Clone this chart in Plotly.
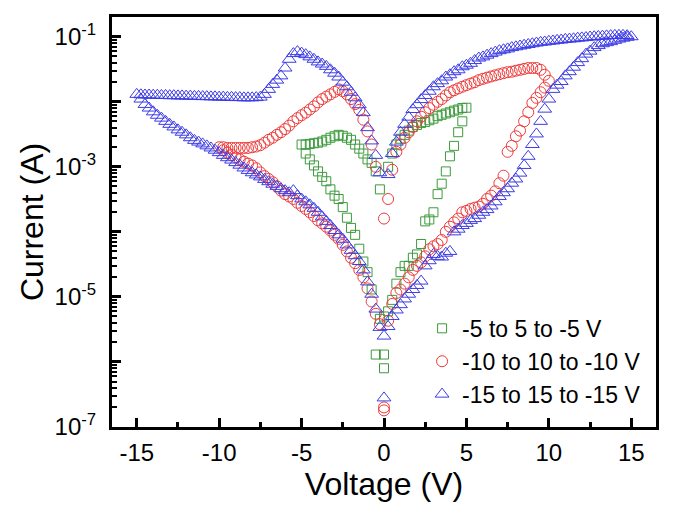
import plotly.graph_objects as go

# ---------------- data ----------------
# -15 to 15 to -15 V (blue triangles)
blue_ul_v = [-15.0, -14.75, -14.5, -14.25, -14.0, -13.75, -13.5, -13.25, -13.0, -12.75, -12.5, -12.25,
             -12.0, -11.75, -11.5, -11.25, -11.0, -10.75, -10.5, -10.25, -10.0, -9.75, -9.5, -9.25,
             -9.0, -8.75, -8.5, -8.25, -8.0, -7.75, -7.5, -7.25, -7.0, -6.75, -6.5, -6.25, -6.0,
             -5.75, -5.5, -5.25, -5.0, -4.75, -4.5, -4.25, -4.0, -3.75, -3.5, -3.25, -3.0, -2.75,
             -2.5, -2.25, -2.0, -1.75, -1.5, -1.25, -1.0, -0.75, -0.5, -0.25]
blue_ul_i = [1.3e-2, 1.28e-2, 1.27e-2, 1.27e-2, 1.26e-2, 1.26e-2, 1.25e-2, 1.25e-2, 1.24e-2, 1.24e-2,
             1.23e-2, 1.23e-2, 1.22e-2, 1.22e-2, 1.21e-2, 1.21e-2, 1.2e-2, 1.2e-2, 1.19e-2, 1.19e-2,
             1.18e-2, 1.18e-2, 1.17e-2, 1.17e-2, 1.16e-2, 1.16e-2, 1.15e-2, 1.15e-2, 1.15e-2, 1.16e-2,
             1.18e-2, 1.3e-2, 1.55e-2, 1.85e-2, 2.15e-2, 2.5e-2, 3.3e-2, 4.5e-2, 5.5e-2, 5.9e-2,
             5.6e-2, 5.3e-2, 4.9e-2, 4.5e-2, 4.1e-2, 3.8e-2, 3.5e-2, 3.1e-2, 2.75e-2, 2.4e-2,
             2.0e-2, 1.7e-2, 1.4e-2, 1.15e-2, 9.0e-3, 6.8e-3, 4.0e-3, 2.5e-3, 1.5e-3, 8.1e-4]

blue_ll_v = [-14.75, -14.5, -14.25, -14.0, -13.75, -13.5, -13.25, -13.0, -12.75, -12.5, -12.25, -12.0,
             -11.75, -11.5, -11.25, -11.0, -10.75, -10.5, -10.25, -10.0, -9.75, -9.5, -9.25, -9.0,
             -8.75, -8.5, -8.25, -8.0, -7.75, -7.5, -7.25, -7.0, -6.75, -6.5, -6.25, -6.0, -5.75,
             -5.5, -5.25, -5.0, -4.75, -4.5, -4.25, -4.0, -3.75, -3.5, -3.25, -3.0, -2.75, -2.5,
             -2.25, -2.0, -1.75, -1.5, -1.25, -1.0, -0.75, -0.5, -0.25, 0.0]
blue_ll_i = [1.1e-2, 9.1e-3, 8.0e-3, 7.0e-3, 6.2e-3, 5.6e-3, 5.0e-3, 4.5e-3, 4.1e-3, 3.7e-3, 3.4e-3,
             3.1e-3, 2.8e-3, 2.55e-3, 2.4e-3, 2.25e-3, 2.1e-3, 1.95e-3, 1.8e-3, 1.65e-3, 1.5e-3,
             1.38e-3, 1.27e-3, 1.16e-3, 1.06e-3, 9.6e-4, 8.8e-4, 8.1e-4, 7.5e-4, 7.0e-4, 6.4e-4,
             5.9e-4, 5.4e-4, 5.0e-4, 4.6e-4, 4.3e-4, 4.0e-4, 4.3e-4, 3.6e-4, 3.2e-4, 2.9e-4, 2.6e-4,
             2.3e-4, 2.0e-4, 1.7e-4, 1.45e-4, 1.25e-4, 1.05e-4, 9.0e-5, 7.7e-5, 6.3e-5, 5.2e-5,
             4.3e-5, 3.5e-5, 2.6e-5, 1.7e-5, 1.1e-5, 6.5e-6, 3.4e-6, 2.5e-6]

blue_ur_v = [0.25, 0.5, 0.75, 1.0, 1.25, 1.5, 1.75, 2.0, 2.25, 2.5, 2.75, 3.0, 3.25, 3.5, 3.75, 4.0,
             4.25, 4.5, 4.75, 5.0, 5.25, 5.5, 5.75, 6.0, 6.25, 6.5, 6.75, 7.0, 7.25, 7.5, 7.75, 8.0,
             8.25, 8.5, 8.75, 9.0, 9.25, 9.5, 9.75, 10.0, 10.25, 10.5, 10.75, 11.0, 11.25, 11.5,
             11.75, 12.0, 12.25, 12.5, 12.75, 13.0, 13.25, 13.5, 13.75, 14.0, 14.25, 14.5, 14.75]
blue_ur_i = [7.6e-4, 1.6e-3, 2.4e-3, 3.4e-3, 4.5e-3, 5.8e-3, 7.6e-3, 9.0e-3, 1.08e-2, 1.25e-2,
             1.45e-2, 1.7e-2, 1.9e-2, 2.1e-2, 2.4e-2, 2.6e-2, 2.9e-2, 3.1e-2, 3.45e-2, 3.65e-2,
             3.9e-2, 4.3e-2, 4.7e-2, 4.9e-2, 5.2e-2, 5.5e-2, 5.8e-2, 6.1e-2, 6.3e-2, 6.5e-2, 6.8e-2,
             7.0e-2, 7.2e-2, 7.4e-2, 7.6e-2, 7.8e-2, 8.0e-2, 8.2e-2, 8.3e-2, 8.5e-2, 8.6e-2, 8.8e-2,
             8.9e-2, 9.1e-2, 9.2e-2, 9.3e-2, 9.5e-2, 9.6e-2, 9.7e-2, 9.9e-2, 1.0e-1, 1.01e-1,
             1.02e-1, 1.03e-1, 1.04e-1, 1.05e-1, 1.05e-1, 1.05e-1, 1.04e-1]

blue_lr_v = [0.0, 0.25, 0.5, 0.75, 1.0, 1.25, 1.5, 1.75, 2.0, 2.25, 2.5, 2.75, 3.0, 3.25, 3.5, 3.75,
             4.0, 4.25, 4.5, 4.75, 5.0, 5.25, 5.5, 5.75, 6.0, 6.25, 6.5, 6.75, 7.0, 7.25, 7.5, 7.75,
             8.0, 8.25, 8.5, 8.75, 9.0, 9.25, 9.5, 9.75, 10.0, 10.25, 10.5, 10.75, 11.0, 11.25, 11.5,
             11.75, 12.0, 12.25, 12.5, 12.75, 13.0, 13.25, 13.5, 13.75, 14.0, 14.25, 14.5, 14.75, 15.0]
blue_lr_i = [2.8e-7, 3.5e-6, 5.0e-6, 6.3e-6, 7.6e-6, 9.3e-6, 1.1e-5, 1.3e-5, 1.5e-5, 1.75e-5, 3.0e-5,
             3.6e-5, 4.5e-5, 4.2e-5, 4.1e-5, 4.7e-5, 5.0e-5, 1.0e-4, 1.1e-4, 1.25e-4, 1.35e-4, 1.5e-4,
             1.6e-4, 1.8e-4, 2.0e-4, 2.2e-4, 2.5e-4, 2.9e-4, 3.5e-4, 4.0e-4, 4.6e-4, 5.6e-4, 6.5e-4,
             8.0e-4, 1.05e-3, 1.45e-3, 2.2e-3, 3.2e-3, 5.0e-3, 7.7e-3, 1.1e-2, 1.55e-2, 1.8e-2,
             2.05e-2, 2.5e-2, 2.9e-2, 3.4e-2, 4.0e-2, 4.6e-2, 5.4e-2, 6.0e-2, 6.8e-2, 7.3e-2, 7.8e-2,
             8.1e-2, 8.4e-2, 8.8e-2, 9.2e-2, 9.5e-2, 9.8e-2, 1.0e-1]

# -10 to 10 to -10 V (red circles)
red_ul_v = [-10.0, -9.75, -9.5, -9.25, -9.0, -8.75, -8.5, -8.25, -8.0, -7.75, -7.5, -7.25, -7.0,
            -6.75, -6.5, -6.25, -6.0, -5.75, -5.5, -5.25, -5.0, -4.75, -4.5, -4.25, -4.0, -3.75,
            -3.5, -3.25, -3.0, -2.75, -2.5, -2.25, -2.0, -1.75, -1.5, -1.25, -1.0, -0.75, -0.5, 0.0]
red_ul_i = [2.0e-3, 2.0e-3, 1.95e-3, 1.95e-3, 1.95e-3, 1.95e-3, 1.95e-3, 1.95e-3, 2.0e-3, 2.05e-3,
            2.15e-3, 2.35e-3, 2.6e-3, 2.8e-3, 3.1e-3, 3.4e-3, 3.8e-3, 4.3e-3, 5.0e-3, 5.6e-3, 6.2e-3,
            6.8e-3, 7.6e-3, 8.5e-3, 9.8e-3, 1.1e-2, 1.2e-2, 1.3e-2, 1.42e-2, 1.55e-2, 1.45e-2,
            1.3e-2, 1.1e-2, 9.2e-3, 7.5e-3, 5.3e-3, 3.5e-3, 2.2e-3, 1.0e-3, 1.6e-4]

red_ur_v = [0.25, 0.5, 0.75, 1.0, 1.25, 1.5, 1.75, 2.0, 2.25, 2.5, 2.75, 3.0, 3.25, 3.5, 3.75, 4.0,
            4.25, 4.5, 4.75, 5.0, 5.25, 5.5, 5.75, 6.0, 6.25, 6.5, 6.75, 7.0, 7.25, 7.5, 7.75, 8.0,
            8.25, 8.5, 8.75, 9.0, 9.25, 9.5, 9.75, 10.0]
red_ur_i = [3.2e-4, 9.0e-4, 1.7e-3, 2.2e-3, 2.8e-3, 3.4e-3, 4.1e-3, 5.0e-3, 5.9e-3, 6.9e-3, 8.0e-3,
            9.0e-3, 1.0e-2, 1.1e-2, 1.25e-2, 1.4e-2, 1.5e-2, 1.6e-2, 1.7e-2, 1.8e-2, 1.9e-2, 2.0e-2,
            2.15e-2, 2.25e-2, 2.35e-2, 2.45e-2, 2.55e-2, 2.65e-2, 2.75e-2, 2.85e-2, 2.9e-2, 3.0e-2,
            3.1e-2, 3.2e-2, 3.3e-2, 3.3e-2, 3.3e-2, 3.1e-2, 2.6e-2, 2.1e-2]

red_lr_v = [0.0, 0.25, 0.5, 0.75, 1.0, 1.25, 1.5, 1.75, 2.0, 2.25, 2.5, 2.75, 3.0, 3.25, 3.5, 3.75,
            4.0, 4.25, 4.5, 4.75, 5.0, 5.25, 5.5, 5.75, 6.0, 6.25, 6.5, 6.75, 7.0, 7.25, 7.5, 7.75,
            8.0, 8.25, 8.5, 8.75, 9.0, 9.25, 9.5, 9.75]
red_lr_i = [2.0e-7, 4.3e-6, 7.8e-6, 1.15e-5, 1.3e-5, 1.6e-5, 2.0e-5, 2.6e-5, 3.0e-5, 3.4e-5, 4.2e-5,
            5.4e-5, 6.0e-5, 6.5e-5, 7.5e-5, 1.0e-4, 1.2e-4, 1.4e-4, 1.6e-4, 2.0e-4, 2.1e-4, 2.25e-4,
            2.35e-4, 2.45e-4, 2.7e-4, 3.2e-4, 3.6e-4, 4.2e-4, 5.6e-4, 7.3e-4, 1.7e-3, 2.1e-3,
            2.95e-3, 3.6e-3, 5.0e-3, 6.9e-3, 9.6e-3, 1.15e-2, 1.4e-2, 1.65e-2]

red_ll_v = [-9.75, -9.5, -9.25, -9.0, -8.75, -8.5, -8.25, -8.0, -7.75, -7.5, -7.25, -7.0, -6.75, -6.5,
            -6.25, -6.0, -5.75, -5.5, -5.25, -5.0, -4.75, -4.5, -4.25, -4.0, -3.75, -3.5, -3.25,
            -3.0, -2.75, -2.5, -2.25, -2.0, -1.75, -1.5, -1.25, -1.0, -0.75, -0.5, -0.25, 0.0]
red_ll_i = [1.8e-3, 1.65e-3, 1.52e-3, 1.4e-3, 1.3e-3, 1.2e-3, 1.12e-3, 1.05e-3, 9.5e-4, 8.2e-4,
            7.2e-4, 6.5e-4, 5.8e-4, 5.0e-4, 4.3e-4, 3.8e-4, 3.5e-4, 3.2e-4, 2.8e-4, 2.5e-4, 2.25e-4,
            2.0e-4, 1.75e-4, 1.5e-4, 1.35e-4, 1.2e-4, 1.05e-4, 9.0e-5, 7.8e-5, 6.3e-5, 5.0e-5,
            4.0e-5, 3.3e-5, 2.6e-5, 2.0e-5, 1.35e-5, 8.5e-6, 5.5e-6, 3.8e-6, 1.8e-7]

# -5 to 5 to -5 V (green squares)
green_ul_v = [-5.0, -4.75, -4.5, -4.25, -4.0, -3.75, -3.5, -3.25, -3.0, -2.75, -2.5, -2.25, -2.0,
              -1.75, -1.5, -1.25, -1.0, -0.75, -0.5, -0.25]
green_ul_i = [2.2e-3, 2.2e-3, 2.25e-3, 2.3e-3, 2.35e-3, 2.45e-3, 2.6e-3, 2.8e-3, 2.95e-3, 3.1e-3,
              3.0e-3, 2.8e-3, 2.6e-3, 2.2e-3, 1.9e-3, 1.6e-3, 1.3e-3, 1.15e-3, 8.5e-4, 4.5e-4]

green_ur_v = [0.25, 0.5, 0.75, 1.0, 1.25, 1.5, 1.75, 2.0, 2.25, 2.5, 2.75, 3.0, 3.25, 3.5, 3.75, 4.0,
              4.25, 4.5, 4.75, 5.0]
green_ur_i = [1.0e-3, 1.6e-3, 2.2e-3, 2.7e-3, 3.1e-3, 3.6e-3, 4.1e-3, 4.4e-3, 4.7e-3, 4.9e-3, 5.2e-3,
              5.5e-3, 6.0e-3, 6.3e-3, 6.6e-3, 6.9e-3, 7.3e-3, 7.6e-3, 8.0e-3, 8.1e-3]

green_lr_v = [0.0, 0.25, 0.5, 0.75, 1.0, 1.25, 1.5, 1.75, 2.0, 2.25, 2.5, 2.75, 3.0, 3.25, 3.5, 3.75,
              4.0, 4.25, 4.5, 4.75]
green_lr_i = [5.0e-6, 6.0e-6, 9.0e-6, 1.6e-5, 2.4e-5, 3.0e-5, 3.0e-5, 4.0e-5, 4.5e-5, 6.5e-5, 1.45e-4,
              1.55e-4, 2.0e-4, 3.8e-4, 5.5e-4, 8.5e-4, 1.45e-3, 2.1e-3, 3.4e-3, 5.0e-3]

green_ll_v = [-4.75, -4.5, -4.25, -4.0, -3.75, -3.5, -3.25, -3.0, -2.75, -2.5, -2.25, -2.0, -1.75,
              -1.5, -1.25, -1.0, -0.75, -0.5, -0.25, 0.0, 0.0]
green_ll_i = [1.6e-3, 1.3e-3, 1.05e-3, 8.5e-4, 7.0e-4, 6.0e-4, 4.5e-4, 3.6e-4, 3.2e-4, 2.4e-4, 1.65e-4,
              1.15e-4, 9.0e-5, 5.5e-5, 3.5e-5, 2.4e-5, 1.3e-5, 1.3e-6, 4.6e-6, 1.3e-6, 8.0e-7]

series_names = ["-5 to 5 to -5 V", "-10 to 10 to -10 V", "-15 to 15 to -15 V"]
x_ticks = [-15, -10, -5, 0, 5, 10, 15]
x_tick_text = ["-15", "-10", "-5", "0", "5", "10", "15"]
y_ticks = [1e-7, 1e-6, 1e-5, 1e-4, 1e-3, 1e-2, 1e-1]
y_tick_text = ["10<sup>-7</sup>", "", "10<sup>-5</sup>", "", "10<sup>-3</sup>", "", "10<sup>-1</sup>"]

# ---------------- figure ----------------
FONT = "Liberation Sans, Arial, sans-serif"
GREEN = "#3d9a3d"
RED = "#ee3b3b"
BLUE = "#3c3ce6"

green_v = green_ul_v + green_ll_v + green_ur_v + green_lr_v
green_i = green_ul_i + green_ll_i + green_ur_i + green_lr_i
red_v = red_ul_v + red_ll_v + red_ur_v + red_lr_v
red_i = red_ul_i + red_ll_i + red_ur_i + red_lr_i
blue_v = blue_ul_v + blue_ll_v + blue_ur_v + blue_lr_v
blue_i = blue_ul_i + blue_ll_i + blue_ur_i + blue_lr_i

fig = go.Figure()
fig.add_trace(go.Scatter(x=green_v, y=green_i, mode="markers", name=series_names[0],
                         marker=dict(symbol="square-open", size=9, color=GREEN,
                                     line=dict(width=1, color=GREEN))))
fig.add_trace(go.Scatter(x=red_v, y=red_i, mode="markers", name=series_names[1],
                         marker=dict(symbol="circle-open", size=11, color=RED,
                                     line=dict(width=1, color=RED))))
fig.add_trace(go.Scatter(x=blue_v, y=blue_i, mode="markers", name=series_names[2],
                         marker=dict(symbol="triangle-up-open", size=12, color=BLUE,
                                     line=dict(width=1, color=BLUE))))

minor_y = [k * d for d in [1e-7, 1e-6, 1e-5, 1e-4, 1e-3, 1e-2, 1e-1] for k in range(2, 10)]

# the page body has an 8 px margin, so the figure is sized to fit the window
fig.update_layout(
    width=677, height=499,
    margin=dict(l=104, r=29, t=9, b=80),
    paper_bgcolor="white", plot_bgcolor="white",
    font=dict(family=FONT, color="black", size=24),
    showlegend=True,
    legend=dict(x=0.57, y=0.293, xanchor="left", yanchor="top",
                bgcolor="rgba(0,0,0,0)", font=dict(size=23, family=FONT),
                itemsizing="trace", tracegroupgap=0),
)
fig.update_xaxes(
    range=[-16.5, 16.5], tickmode="array", tickvals=x_ticks, ticktext=x_tick_text,
    ticks="inside", ticklen=9, tickwidth=2.5, tickcolor="black",
    showline=True, linewidth=3, linecolor="black", mirror=True,
    showgrid=False, zeroline=False, automargin=False,
    tickfont=dict(size=24, family=FONT), ticklabelstandoff=2,
    minor=dict(tickmode="array", tickvals=[-12.5, -7.5, -2.5, 2.5, 7.5, 12.5],
               ticks="inside", ticklen=5, tickwidth=2.5, tickcolor="black", showgrid=False),
    title=dict(text="Voltage (V)", font=dict(size=32, family=FONT), standoff=4),
)
fig.update_yaxes(
    type="log", range=[-7, -0.697], tickmode="array", tickvals=y_ticks, ticktext=y_tick_text,
    ticks="inside", ticklen=9, tickwidth=2.5, tickcolor="black",
    showline=True, linewidth=3, linecolor="black", mirror=True,
    showgrid=False, zeroline=False, automargin=False,
    tickfont=dict(size=24, family=FONT), ticklabelstandoff=8,
    minor=dict(tickmode="array", tickvals=minor_y, ticks="inside", ticklen=5,
               tickwidth=2, tickcolor="black", showgrid=False),
    title=dict(text="Current (A)", font=dict(size=32, family=FONT), standoff=2),
)

fig.write_html("out.html")
